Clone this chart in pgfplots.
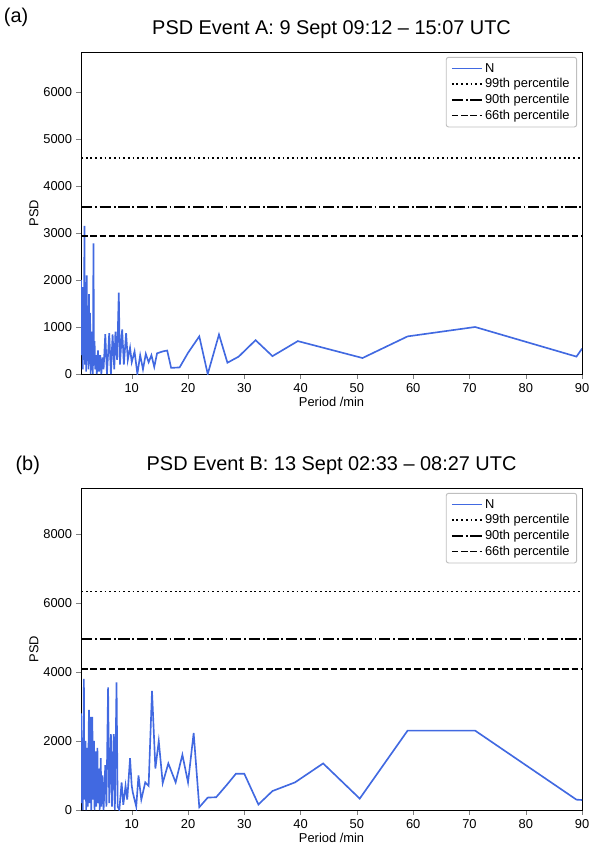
\documentclass[border=0pt]{standalone}
\usepackage{pgfplots}
\pgfplotsset{compat=1.18}
\usepackage{fontspec}
\setmainfont{Liberation Sans}
\definecolor{psdblue}{RGB}{65,105,225}
\tikzset{mdot/.style={dash pattern=on 1.5pt off 2.5pt},
  mdash/.style={dash pattern=on 5.5pt off 2.4pt},
  mdashdot/.style={dash pattern=on 9.6pt off 2.4pt on 1.5pt off 2.4pt}}
\pgfplotsset{psd/.style={
  scale only axis, width=15.03cm, height=9.66cm,
  xmin=1, xmax=90, xtick={10,20,...,90},
  tick label style={font=\fontsize{11}{12}\selectfont},
  label style={font=\fontsize{11}{12}\selectfont},
  /pgf/number format/assume math mode=true,
  scaled y ticks=false, yticklabel style={/pgf/number format/set thousands separator={}},
  xlabel={Period /min}, ylabel={PSD},
  xlabel style={yshift=3pt}, ylabel style={yshift=-3pt},
  tick align=outside, xtick pos=bottom, ytick pos=left,
  major tick length=4pt, every axis/.append style={line width=0.8pt},
  title style={font=\fontsize{17}{19}\selectfont, yshift=2pt},
  legend cell align=left,
  legend style={at={(0.99,0.985)},anchor=north east,font=\fontsize{11}{14}\selectfont,draw=black!25,rounded corners=2pt, inner xsep=4pt, inner ysep=3pt},
  legend image code/.code={\draw[#1] (0cm,0cm) -- (0.9cm,0cm);},
}}
\begin{document}
\begin{tikzpicture}
\path (-2.4,11.22) rectangle (15.69,-14.46);
\begin{axis}[psd, ymin=0, ymax=6850, ytick={0,1000,...,6000},
  title={PSD Event A: 9 Sept 09:12 -- 15:07 UTC}]
\addplot[psdblue, line width=1.4pt] coordinates {
(1.0,2000)(1.1,400)(1.2,1850)(1.3,100)(1.4,1700)(1.5,300)(1.6,3150)(1.7,200)(1.8,1500)(1.9,50)(2.0,2100)(2.1,500)(2.2,1450)(2.3,100)(2.4,1700)(2.5,300)(2.6,1300)(2.7,0)(2.8,900)(2.9,200)(3.0,600)(3.1,0)(3.2,2780)(3.3,300)(3.4,700)(3.5,100)(3.6,400)(3.8,0)(4.0,500)(4.2,50)(4.4,400)(4.6,0)(4.8,350)(5.0,100)(5.3,850)(5.6,0)(6.0,870)(6.3,0)(6.6,840)(6.9,100)(7.1,900)(7.4,300)(7.7,1730)(7.9,200)(8.3,950)(8.6,200)(9.0,870)(9.3,300)(9.7,560)(10.0,250)(10.5,480)(11.0,0)(11.5,400)(12.0,100)(12.5,430)(13.0,250)(13.5,400)(14.0,150)(14.5,440)(15.5,480)(16.3,500)(17.0,130)(18.5,140)(20,450)(22,800)(23.5,0)(25.5,840)(27,240)(29,370)(32,720)(35,380)(39.5,700)(51,340)(59,800)(71,1000)(89,370)(90,540)};
\addplot[black, line width=1.5pt, mdot] coordinates {(1,4600)(90,4600)};
\addplot[black, line width=1.5pt, mdashdot] coordinates {(1,3550)(90,3550)};
\addplot[black, line width=1.5pt, mdash] coordinates {(1,2930)(90,2930)};
\legend{N,99th percentile,90th percentile,66th percentile}
\end{axis}
\node[font=\fontsize{17}{19}\selectfont] at (-1.95,10.7) {(a)};
\begin{axis}[psd, yshift=-13.08cm, ymin=0, ymax=9330, ytick={0,2000,...,8000},
  title={PSD Event B: 13 Sept 02:33 -- 08:27 UTC}]
\addplot[psdblue, line width=1.4pt] coordinates {
(1.0,2800)(1.1,200)(1.2,2100)(1.3,0)(1.5,3800)(1.6,300)(1.8,2000)(1.9,0)(2.1,1800)(2.2,100)(2.4,2900)(2.5,200)(2.7,2700)(2.8,0)(3.0,2700)(3.1,300)(3.3,2000)(3.4,0)(3.6,1700)(3.7,100)(3.9,1800)(4.0,200)(4.2,1200)(4.3,0)(4.5,1500)(4.6,100)(4.8,1000)(5.0,0)(5.3,1300)(5.5,100)(5.8,3550)(6.0,200)(6.3,2200)(6.5,100)(6.8,2200)(7.0,0)(7.3,3700)(7.5,100)(7.8,0)(8.2,800)(8.5,150)(8.9,700)(9.2,300)(9.7,1500)(10.0,700)(10.2,500)(10.8,100)(11.2,1000)(11.7,300)(12.4,800)(13.0,700)(13.6,3450)(14.2,1200)(14.8,2000)(15.5,780)(16.5,1350)(17.8,800)(19,1600)(20,800)(21,2230)(22,80)(23.5,360)(25,370)(27,750)(28.5,1050)(30,1050)(32.5,160)(35,550)(39,800)(44,1350)(50.5,330)(59,2300)(71,2300)(89,300)(90,290)};
\addplot[black, line width=1.5pt, mdot] coordinates {(1,6330)(90,6330)};
\addplot[black, line width=1.5pt, mdashdot] coordinates {(1,4960)(90,4960)};
\addplot[black, line width=1.5pt, mdash] coordinates {(1,4080)(90,4080)};
\legend{N,99th percentile,90th percentile,66th percentile}
\end{axis}
\node[font=\fontsize{17}{19}\selectfont] at (-1.6,-2.75) {(b)};
\end{tikzpicture}
\end{document}
